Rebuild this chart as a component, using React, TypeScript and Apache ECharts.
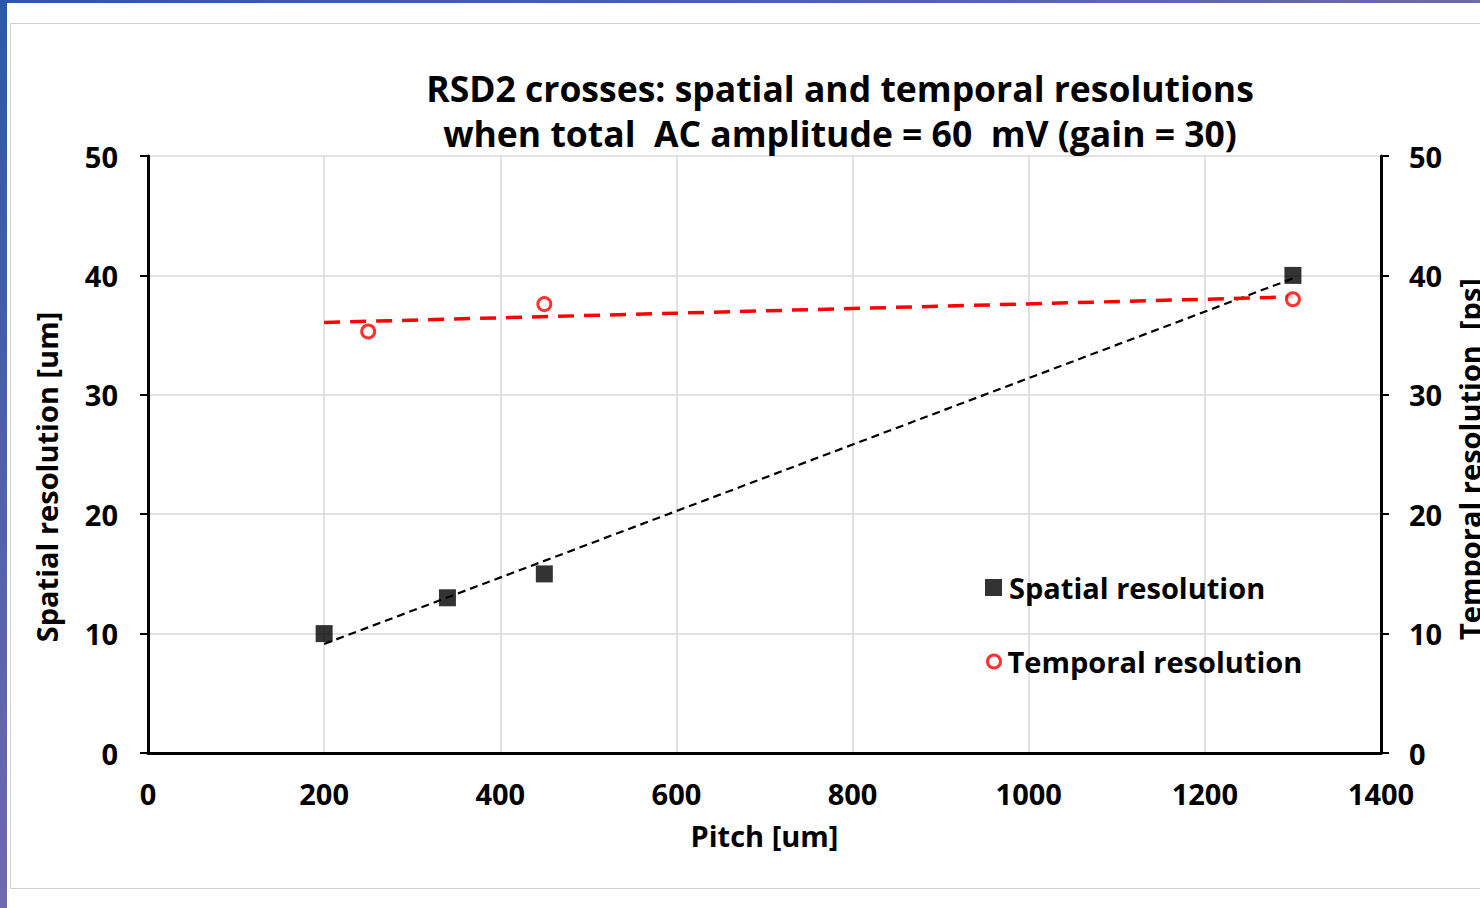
import React, { useEffect, useRef } from "react";
import * as echarts from "echarts";

const titleLines = [
  "RSD2 crosses: spatial and temporal resolutions",
  "when total  AC amplitude = 60  mV (gain = 30)",
];
const leftAxisName = "Spatial resolution [um]";
const rightAxisName = "Temporal resolution  [ps]";
const pitch = [200, 340, 450, 1300];
const spatialRes = [10, 13, 15, 40];
const temporalPitch = [250, 450, 1300];
const temporalRes = [35.3, 37.6, 38.0];
const trendRange = [200, 1300];

function linFit(xs: number[], ys: number[]) {
  const n = xs.length;
  const mx = xs.reduce((a, b) => a + b, 0) / n;
  const my = ys.reduce((a, b) => a + b, 0) / n;
  let sxy = 0, sxx = 0;
  for (let i = 0; i < n; i++) {
    sxy += (xs[i] - mx) * (ys[i] - my);
    sxx += (xs[i] - mx) * (xs[i] - mx);
  }
  const k = sxy / sxx;
  return (x: number) => my + k * (x - mx);
}

const FONT = "Open Sans";

export default function App() {
  const ref = useRef<HTMLDivElement>(null);
  useEffect(() => {
    document.body.style.margin = "0";
    document.body.style.overflow = "hidden";
    if (!ref.current) return;
    const chart = echarts.init(ref.current, null, { renderer: "svg", width: 1480, height: 908 });
    const fs = linFit(pitch, spatialRes);
    const ft = linFit(temporalPitch, temporalRes);
    const axisLabel = { color: "#000", fontFamily: FONT, fontWeight: "bold" as const, fontSize: 29 };
    const legendText = { fontFamily: FONT, fontWeight: "bold" as const, fontSize: 29, color: "#000", padding: [0, 0, 0, 2] };
    const nameFont = `bold 29px "${FONT}"`;
    chart.setOption({
      animation: false,
      textStyle: { fontFamily: FONT },
      title: {
        text: titleLines.join("\n"),
        left: 835,
        top: 60,
        textAlign: "center",
        textStyle: { fontFamily: FONT, fontWeight: "bold", fontSize: 35.5, lineHeight: 45, color: "#000" },
      },
      grid: { left: 148, right: 99, top: 156, bottom: 155, containLabel: false, outerBoundsMode: "none" },
      graphic: [
        {
          type: "text",
          x: 46,
          y: 477,
          rotation: Math.PI / 2,
          style: { text: leftAxisName, font: nameFont, fill: "#000", align: "center", verticalAlign: "middle" },
        },
        {
          type: "text",
          x: 1469,
          y: 459,
          rotation: Math.PI / 2,
          style: { text: rightAxisName, font: nameFont, fill: "#000", align: "center", verticalAlign: "middle" },
        },
      ],
      legend: [
        {
          data: [{ name: "Spatial resolution", icon: "rect", itemStyle: { color: "#000", borderWidth: 0 } }],
          left: 980,
          top: 568,
          itemWidth: 17,
          itemHeight: 17,
          itemGap: 0,
          textStyle: legendText,
        },
        {
          data: [
            {
              name: "Temporal resolution",
              icon: "circle",
              itemStyle: { color: "#fff", borderColor: "#ff0000", borderWidth: 3 },
            },
          ],
          left: 981,
          top: 642,
          itemWidth: 13,
          itemHeight: 13,
          itemGap: 0,
          textStyle: legendText,
        },
      ],
      xAxis: {
        type: "value",
        min: 0,
        max: 1400,
        interval: 200,
        name: "Pitch [um]",
        nameLocation: "middle",
        nameGap: 68,
        nameTextStyle: axisLabel,
        axisLine: { show: true, lineStyle: { color: "#000", width: 3 } },
        axisTick: { show: false },
        axisLabel: { ...axisLabel, margin: 26, formatter: (v: number) => String(v) },
        splitLine: { show: true, lineStyle: { color: "#d9d9d9", width: 1.5 } },
      },
      yAxis: [
        {
          type: "value",
          min: 0,
          max: 50,
          interval: 10,
          position: "left",
          axisLine: { show: true, lineStyle: { color: "#000", width: 3 } },
          axisTick: { show: true, length: 8, lineStyle: { color: "#000", width: 2 } },
          axisLabel: { ...axisLabel, margin: 30 },
          splitLine: { show: true, lineStyle: { color: "#d9d9d9", width: 1.5 } },
        },
        {
          type: "value",
          min: 0,
          max: 50,
          interval: 10,
          position: "right",
          axisLine: { show: true, lineStyle: { color: "#000", width: 3 } },
          axisTick: { show: true, length: 8, lineStyle: { color: "#000", width: 2 } },
          axisLabel: { ...axisLabel, margin: 28 },
          splitLine: { show: false },
        },
      ],
      series: [
        {
          name: "Spatial trend",
          type: "line",
          data: trendRange.map((x) => [x, fs(x)]),
          symbol: "none",
          silent: true,
          z: 2,
          lineStyle: { color: "#000", width: 2.2, type: [8, 5] },
        },
        {
          name: "Temporal trend",
          type: "line",
          yAxisIndex: 1,
          data: trendRange.map((x) => [x, ft(x)]),
          symbol: "none",
          silent: true,
          z: 2,
          lineStyle: { color: "#ff0000", width: 3.5, type: [16, 10] },
        },
        {
          name: "Spatial resolution",
          type: "scatter",
          data: pitch.map((x, i) => [x, spatialRes[i]]),
          symbol: "rect",
          symbolSize: 17,
          z: 3,
          itemStyle: { color: "#000" },
        },
        {
          name: "Temporal resolution",
          type: "scatter",
          yAxisIndex: 1,
          data: temporalPitch.map((x, i) => [x, temporalRes[i]]),
          symbol: "circle",
          symbolSize: 13,
          z: 3,
          itemStyle: { color: "#fff", borderColor: "#ff0000", borderWidth: 3 },
        },
      ],
    });
    return () => chart.dispose();
  }, []);

  return (
    <div
      style={{
        position: "fixed",
        left: 0,
        top: 0,
        width: 1480,
        height: 908,
        background: "linear-gradient(to bottom right, #2b58a8 0%, #6f68b0 50%, #b4a4d2 100%)",
        overflow: "hidden",
      }}
    >
      <div style={{ position: "absolute", left: 7, top: 3, width: 1473, height: 905, background: "#fff" }} />
      <div
        style={{
          position: "absolute",
          left: 10,
          top: 23,
          width: 1480,
          height: 866,
          border: "1px solid #d0d0d0",
          boxSizing: "border-box",
        }}
      />
      <div ref={ref} style={{ position: "absolute", left: 0, top: 0, width: 1480, height: 908 }} />
    </div>
  );
}
